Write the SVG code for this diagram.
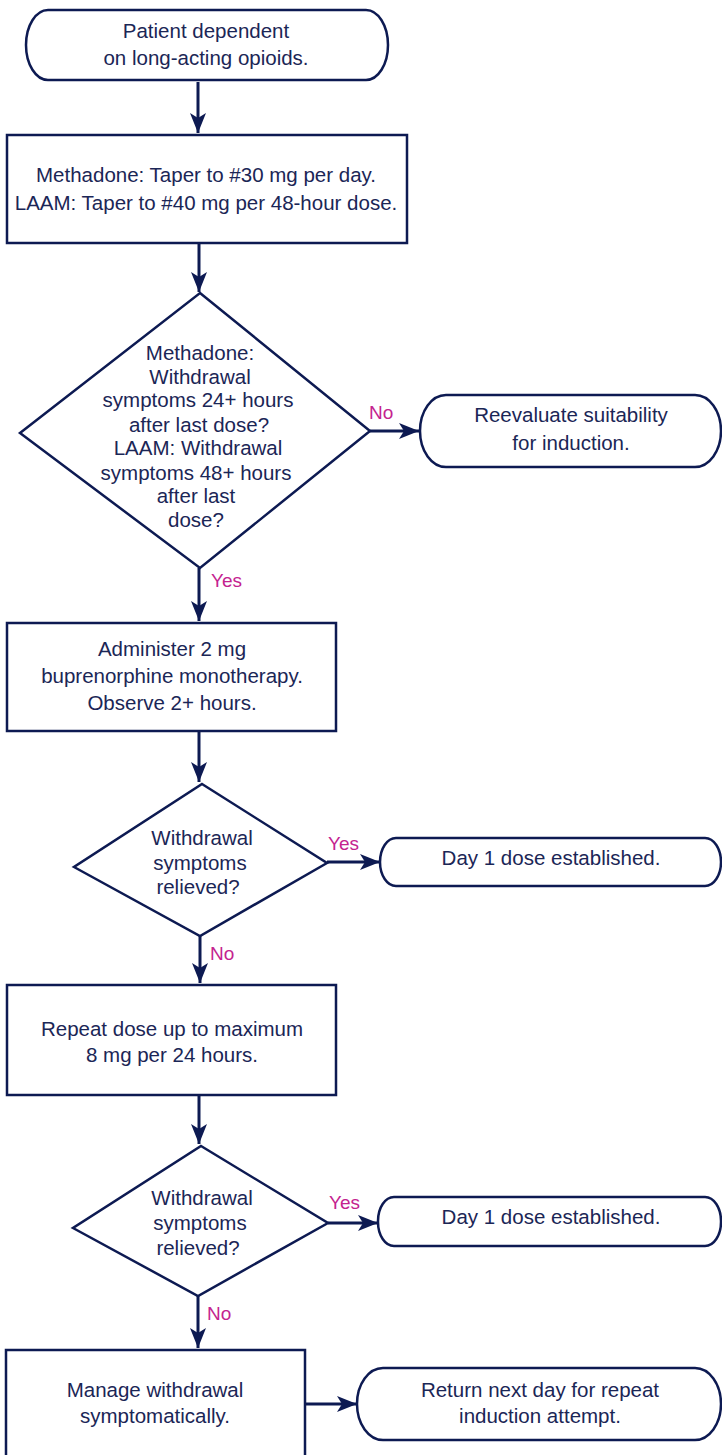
<svg xmlns="http://www.w3.org/2000/svg" width="722" height="1455" viewBox="0 0 722 1455">
<style>
.s{fill:#fff;stroke:#0d1a52;stroke-width:2.5}
.t{font-family:"Liberation Sans",Arial,sans-serif;font-size:20.5px;fill:#1b2656;text-anchor:middle}
.l{font-family:"Liberation Sans",Arial,sans-serif;font-size:19px;fill:#c4238f}
.c{stroke:#0d1a52;stroke-width:3;fill:none;marker-end:url(#ah)}
</style>
<defs>
<marker id="ah" markerUnits="userSpaceOnUse" markerWidth="22" markerHeight="16" refX="20" refY="8" orient="auto">
<path d="M0,0 L20,8 L0,16 L5,8 Z" fill="#0d1a52"/>
</marker>
</defs>
<rect width="722" height="1455" fill="#fff"/>
<g id="connectors">
<path class="c" d="M198,82 V133"/>
<path class="c" d="M199,244 V292"/>
<path class="c" d="M370,431 H419"/>
<path class="c" d="M199,568 V621"/>
<path class="c" d="M199,732 V782"/>
<path class="c" d="M327,862 H380"/>
<path class="c" d="M200,936 V983"/>
<path class="c" d="M199,1096 V1144"/>
<path class="c" d="M328,1223 H378"/>
<path class="c" d="M198,1296 V1348"/>
<path class="c" d="M305,1404 H357"/>
<text class="l" x="369" y="419">No</text>
<text class="l" x="211" y="587">Yes</text>
<text class="l" x="328" y="850">Yes</text>
<text class="l" x="210" y="960">No</text>
<text class="l" x="329" y="1209">Yes</text>
<text class="l" x="207" y="1320">No</text>
</g>
<g id="n1">
<rect class="s" x="26" y="10" width="362" height="70" rx="22" ry="35"/>
<text class="t" x="206" y="38">Patient dependent</text>
<text class="t" x="206" y="65">on long-acting opioids.</text>
</g>
<g id="n2">
<rect class="s" x="7" y="135" width="400" height="108"/>
<text class="t" x="206" y="182">Methadone: Taper to #30 mg per day.</text>
<text class="t" x="206" y="210">LAAM: Taper to #40 mg per 48-hour dose.</text>
</g>
<g id="d1">
<polygon class="s" points="200,293 370,431 200,568 20,433"/>
<text class="t" x="200" y="360">Methadone:</text>
<text class="t" x="200" y="384">Withdrawal</text>
<text class="t" x="198" y="407">symptoms 24+ hours</text>
<text class="t" x="199" y="432">after last dose?</text>
<text class="t" x="198" y="455">LAAM: Withdrawal</text>
<text class="t" x="196" y="480">symptoms 48+ hours</text>
<text class="t" x="196" y="503">after last</text>
<text class="t" x="196" y="527">dose?</text>
</g>
<g id="n3">
<rect class="s" x="420" y="395" width="301" height="72" rx="26" ry="36"/>
<text class="t" x="571" y="422">Reevaluate suitability</text>
<text class="t" x="571" y="450">for induction.</text>
</g>
<g id="n4">
<rect class="s" x="7" y="623" width="329" height="108"/>
<text class="t" x="172" y="656">Administer 2 mg</text>
<text class="t" x="172" y="683">buprenorphine monotherapy.</text>
<text class="t" x="172" y="710">Observe 2+ hours.</text>
</g>
<g id="d2">
<polygon class="s" points="202,784 327,863 200,936 74,867"/>
<text class="t" x="202" y="845">Withdrawal</text>
<text class="t" x="200" y="870">symptoms</text>
<text class="t" x="198" y="894">relieved?</text>
</g>
<g id="n5">
<rect class="s" x="380" y="838" width="341" height="48" rx="16" ry="24"/>
<text class="t" x="551" y="865">Day 1 dose established.</text>
</g>
<g id="n6">
<rect class="s" x="7" y="985" width="329" height="110"/>
<text class="t" x="172" y="1036">Repeat dose up to maximum</text>
<text class="t" x="172" y="1062">8 mg per 24 hours.</text>
</g>
<g id="d3">
<polygon class="s" points="201,1146 328,1223 198,1296 73,1228"/>
<text class="t" x="202" y="1205">Withdrawal</text>
<text class="t" x="200" y="1230">symptoms</text>
<text class="t" x="198" y="1255">relieved?</text>
</g>
<g id="n7">
<rect class="s" x="378" y="1197" width="343" height="49" rx="16" ry="24"/>
<text class="t" x="551" y="1224">Day 1 dose established.</text>
</g>
<g id="n8">
<rect class="s" x="6" y="1350" width="299" height="112"/>
<text class="t" x="155" y="1397">Manage withdrawal</text>
<text class="t" x="155" y="1423">symptomatically.</text>
</g>
<g id="n9">
<rect class="s" x="357" y="1368" width="364" height="72" rx="26" ry="36"/>
<text class="t" x="540" y="1397">Return next day for repeat</text>
<text class="t" x="540" y="1423">induction attempt.</text>
</g>
</svg>
